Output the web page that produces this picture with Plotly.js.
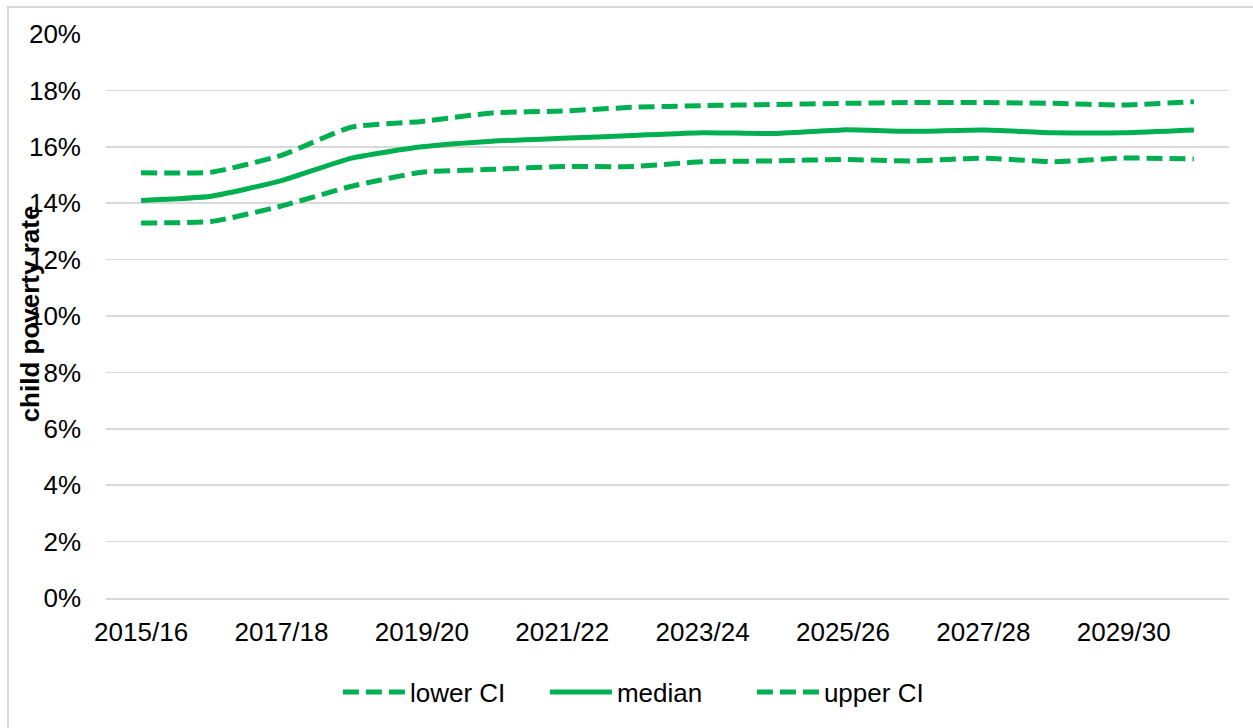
<!DOCTYPE html>
<html>
<head>
<meta charset="utf-8">
<script src="https://cdn.plot.ly/plotly-3.0.1.min.js"></script>
<style>
html,body{margin:0;padding:0;background:#fff;}
#frame{position:absolute;left:7px;top:6px;width:1260px;height:740px;border-left:2px solid #d9d9d9;border-top:2px solid #d9d9d9;box-sizing:border-box;pointer-events:none;z-index:5;}
#chart{position:absolute;left:0;top:0;width:1253px;height:728px;}
</style>
</head>
<body>
<div id="chart"></div>
<div id="frame"></div>
<script>
const years = ["2015/16","2016/17","2017/18","2018/19","2019/20","2020/21","2021/22","2022/23","2023/24","2024/25","2025/26","2026/27","2027/28","2028/29","2029/30","2030/31"];
const tickLabels = ["2015/16","2017/18","2019/20","2021/22","2023/24","2025/26","2027/28","2029/30"];
const lowerCI = [0.133,0.1335,0.139,0.146,0.151,0.152,0.153,0.153,0.1547,0.155,0.1555,0.155,0.156,0.1547,0.156,0.1557];
const median  = [0.141,0.1425,0.148,0.156,0.160,0.162,0.163,0.164,0.165,0.1647,0.166,0.1655,0.166,0.165,0.165,0.166];
const upperCI = [0.1508,0.151,0.157,0.167,0.169,0.172,0.1727,0.174,0.1746,0.175,0.1754,0.1757,0.1757,0.1754,0.1748,0.176];

const green = "#00B050";
const font = "Liberation Sans, Arial, sans-serif";
const fs = 26;

const traces = [
  {x: years, y: lowerCI, name: "lower CI", type: "scatter", mode: "lines",
   line: {color: green, width: 5, dash: "16px,7px", shape: "spline", smoothing: 0.5}},
  {x: years, y: median, name: "median", type: "scatter", mode: "lines",
   line: {color: green, width: 5, shape: "spline", smoothing: 0.5}},
  {x: years, y: upperCI, name: "upper CI", type: "scatter", mode: "lines",
   line: {color: green, width: 5, dash: "16px,7px", shape: "spline", smoothing: 0.5}}
];

const layout = {
  width: 1253, height: 728,
  margin: {l: 106, r: 24, t: 34, b: 130},
  paper_bgcolor: "#fff", plot_bgcolor: "#fff",
  font: {family: font, size: fs, color: "#000"},
  showlegend: true,
  legend: {orientation: "h", x: 0.483, xanchor: "center", y: -0.1667, yanchor: "middle",
           font: {family: font, size: fs, color: "#000"}, itemwidth: 62, tracegroupgap: 0,
           entrywidth: 130, entrywidthmode: "pixels"},
  xaxis: {
    type: "category", categoryorder: "array", categoryarray: years,
    tickmode: "array", tickvals: tickLabels, ticktext: tickLabels,
    showgrid: false, showline: true, linecolor: "#d9d9d9", linewidth: 1.5,
    ticks: "", ticklabelstandoff: 10, tickfont: {family: font, size: fs, color: "#000"},
    range: [-0.5, 15.5], fixedrange: true, automargin: false
  },
  yaxis: {
    range: [0, 0.2], tickvals: [0,0.02,0.04,0.06,0.08,0.1,0.12,0.14,0.16,0.18,0.2],
    tickformat: ".0%", showgrid: true, gridcolor: "#d9d9d9", gridwidth: 1.5,
    zeroline: false, ticks: "", ticklen: 0, ticklabelstandoff: 24,
    tickfont: {family: font, size: fs, color: "#000"},
    title: {text: "<b>child poverty rate</b>", font: {family: font, size: fs, color: "#000"}, standoff: 0},
    fixedrange: true, automargin: false
  }
};

Plotly.newPlot("chart", traces, layout, {displayModeBar: false, staticPlot: true}).then(function(){
  // place y-axis title overlapping the tick labels as in the reference
  const t = document.querySelector(".g-ytitle text");
  if (t) {
    const cx = 26, cy = 314;
    t.setAttribute("x", cx); t.setAttribute("y", cy);
    t.setAttribute("transform", "rotate(-90," + cx + "," + cy + ")");
    t.setAttribute("dy", "0.35em");
  }
});
</script>
</body>
</html>
